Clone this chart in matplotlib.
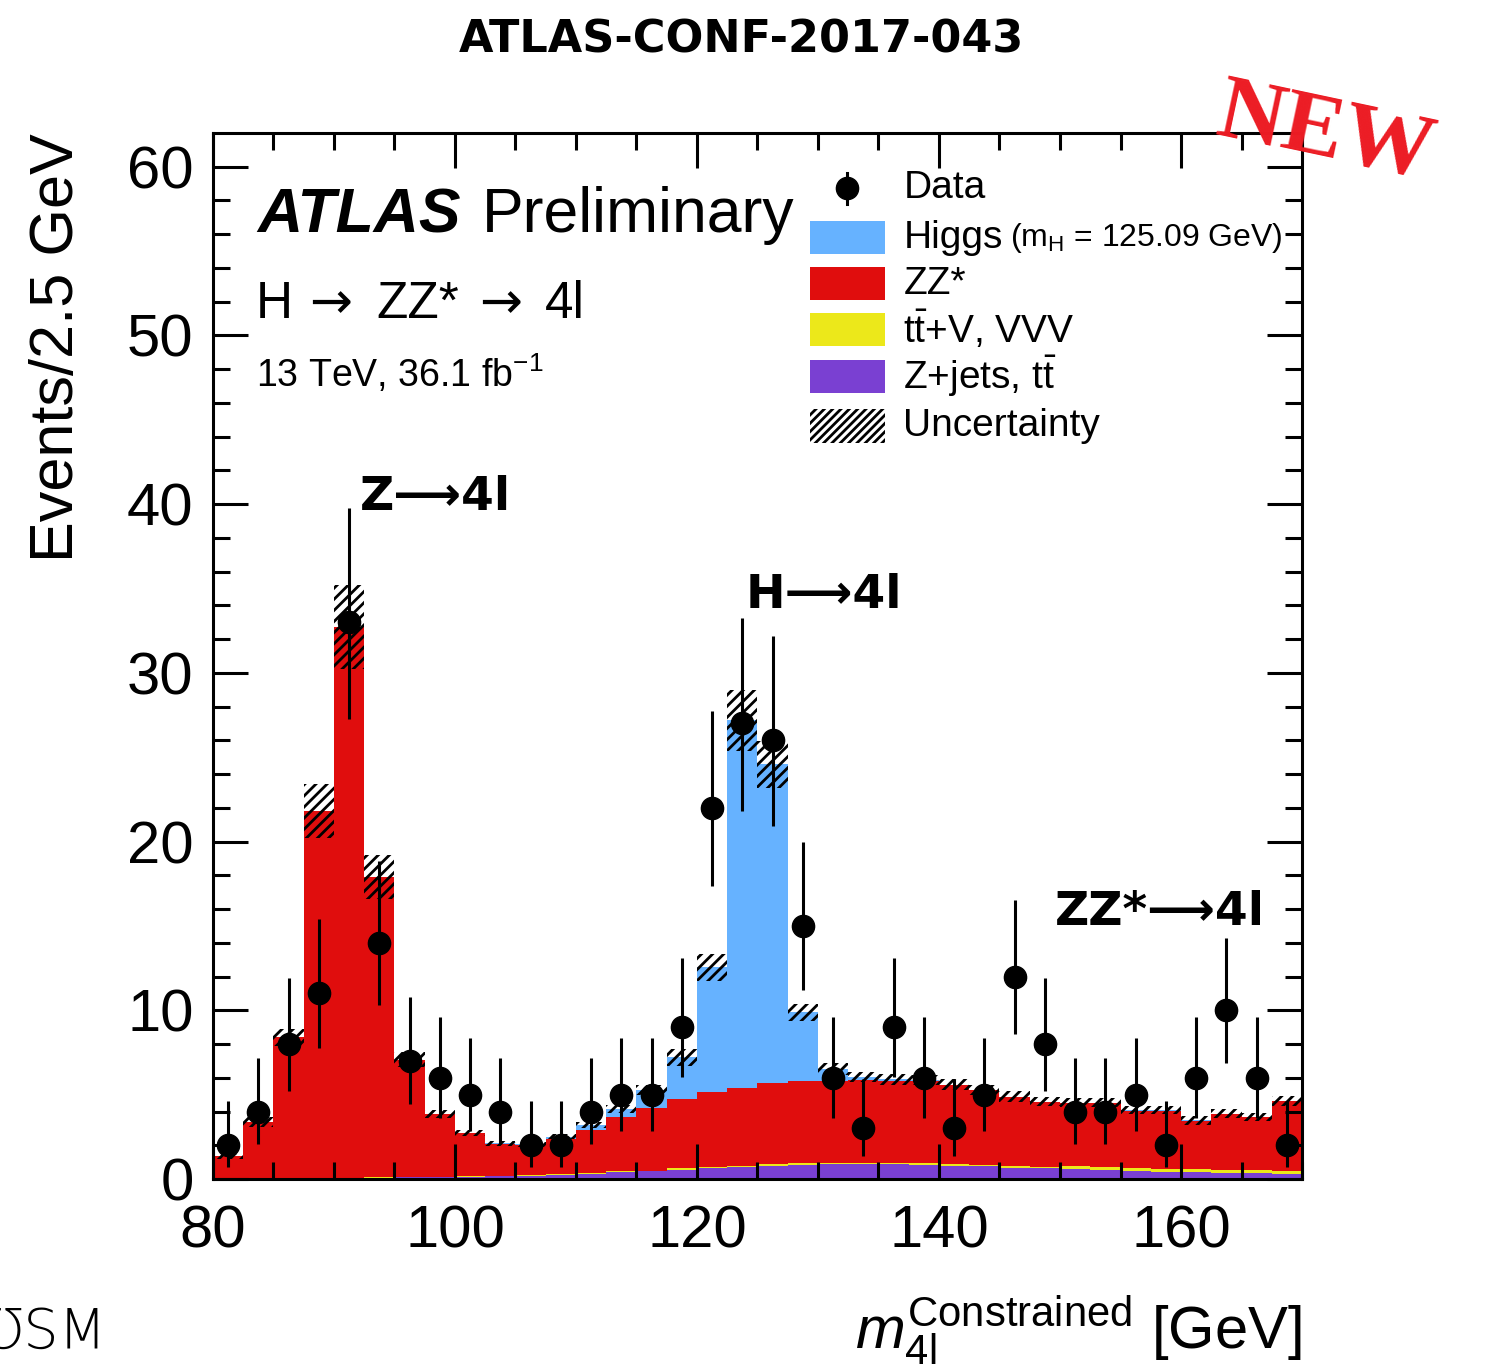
"""ATLAS H->ZZ*->4l constrained mass spectrum (ATLAS-CONF-2017-043)."""
import matplotlib
matplotlib.use("Agg")
import matplotlib.pyplot as plt
from matplotlib.patches import Rectangle
import numpy as np

plt.rcParams['font.family'] = ['Liberation Sans', 'DejaVu Sans']
plt.rcParams['mathtext.fontset'] = 'custom'
plt.rcParams['mathtext.rm'] = 'Liberation Sans'
plt.rcParams['mathtext.it'] = 'Liberation Sans:italic'
plt.rcParams['mathtext.bf'] = 'Liberation Sans:bold'
plt.rcParams['hatch.linewidth'] = 2.0

# 2.5 GeV bins from 80 to 170 GeV
edges = np.linspace(80, 170, 37)

data = [2, 4, 8, 11, 33, 14, 7, 6, 5, 4, 2, 2, 4, 5, 5, 9, 22, 27,
        26, 15, 6, 3, 9, 6, 3, 5, 12, 8, 4, 4, 5, 2, 6, 10, 6, 2]

zjets = [0.02, 0.03, 0.04, 0.05, 0.07, 0.08, 0.10, 0.12, 0.13, 0.15, 0.20, 0.25,
         0.30, 0.40, 0.45, 0.55, 0.63, 0.70, 0.80, 0.84, 0.87, 0.87, 0.86, 0.84,
         0.80, 0.75, 0.68, 0.63, 0.57, 0.52, 0.48, 0.44, 0.40, 0.37, 0.34, 0.31]

ttv = [0.0, 0.0, 0.0, 0.0, 0.0, 0.02, 0.02, 0.02, 0.02, 0.02, 0.05, 0.05,
       0.05, 0.05, 0.05, 0.08, 0.08, 0.08, 0.08, 0.08, 0.10, 0.10, 0.10, 0.10,
       0.10, 0.10, 0.10, 0.10, 0.18, 0.18, 0.18, 0.18, 0.18, 0.18, 0.18, 0.18]

zz = [1.34, 3.37, 8.36, 21.75, 32.63, 17.80, 6.95, 3.72, 2.55, 1.90, 1.75, 2.10,
      2.55, 3.25, 3.70, 4.09, 4.44, 4.60, 4.79, 4.86, 4.84, 4.89, 4.84, 4.86,
      4.65, 4.40, 4.07, 3.82, 3.75, 3.80, 3.39, 3.43, 2.87, 3.30, 3.13, 4.11]

higgs = [0.0, 0.0, 0.0, 0.0, 0.0, 0.0, 0.0, 0.0, 0.02, 0.05, 0.05, 0.10,
         0.30, 0.45, 1.10, 2.50, 7.40, 21.80, 18.90, 4.10, 0.70, 0.17, 0.10, 0.08,
         0.05, 0.05, 0.04, 0.04, 0.03, 0.03, 0.03, 0.03, 0.02, 0.02, 0.02, 0.02]

# half-width of the total systematic + statistical band
unc = [0.15, 0.30, 0.50, 1.60, 2.50, 1.30, 0.45, 0.25, 0.20, 0.15, 0.15, 0.15,
       0.20, 0.25, 0.30, 0.50, 0.80, 1.80, 1.40, 0.50, 0.35, 0.30, 0.30, 0.30,
       0.30, 0.30, 0.30, 0.25, 0.25, 0.25, 0.25, 0.25, 0.25, 0.25, 0.25, 0.30]

col_higgs = '#66b2ff'
col_zz = '#e00d0d'
col_ttv = '#ece81a'
col_zjets = '#7a40d2'

fig = plt.figure(figsize=(14.91, 13.64), dpi=100)
ax = fig.add_axes([213 / 1491, 1 - 1179 / 1364, 1089 / 1491, 1046 / 1364])

# stacked backgrounds + signal
bottom = np.zeros(len(data))
for vals, col in [(zjets, col_zjets), (ttv, col_ttv), (zz, col_zz), (higgs, col_higgs)]:
    top = bottom + np.array(vals)
    ax.stairs(top, edges, baseline=bottom, fill=True, color=col, lw=0)
    bottom = top
total = bottom

centers = 0.5 * (edges[:-1] + edges[1:])
width = edges[1:] - edges[:-1]
unc = np.array(unc)
ax.bar(centers, 2 * unc, width=width, bottom=total - unc, fill=False,
       hatch='///', edgecolor='black', linewidth=0)

# data with Poisson (Garwood) intervals
n = np.array(data, dtype=float)
lo = n * (1 - 1 / (9 * n) - 1 / (3 * np.sqrt(n))) ** 3
hi = (n + 1) * (1 - 1 / (9 * (n + 1)) + 1 / (3 * np.sqrt(n + 1))) ** 3
ax.errorbar(centers, n, yerr=[n - lo, hi - n], fmt='o', color='black',
            markersize=16, elinewidth=2.2, capsize=0, zorder=5)

ax.set_xlim(80, 170)
ax.set_ylim(0, 62)
ax.set_xticks([80, 100, 120, 140, 160])
ax.set_xticks(np.arange(80, 171, 5), minor=True)
ax.set_yticks([0, 10, 20, 30, 40, 50, 60])
ax.set_yticks(np.arange(0, 62, 2), minor=True)
ax.tick_params(which='both', direction='in', top=True, right=True, width=2.2,
               labelsize=43)
ax.tick_params(which='major', length=25)
ax.tick_params(which='minor', length=12)
ax.tick_params(axis='x', pad=18)
ax.tick_params(axis='y', pad=14)
for s in ax.spines.values():
    s.set_linewidth(2.2)

fig.text(58 / 1491, 1 - 133 / 1364, 'Events/2.5 GeV', rotation=90,
         ha='center', va='top', fontsize=44)
fig.text(1302 / 1491, 14 / 1364,
         r'$m_{\mathrm{4l}}^{\mathrm{Constrained}}$ [GeV]',
         ha='right', va='baseline', fontsize=43)

# ATLAS labels
ax.text(0.041, 0.905, 'ATLAS', transform=ax.transAxes, fontsize=45,
        fontweight='bold', fontstyle='italic', va='baseline')
ax.text(0.247, 0.905, 'Preliminary', transform=ax.transAxes, fontsize=45,
        va='baseline')
# process line, pieces placed so the arrows come from DejaVu (longer glyph)
for xpos, piece, fam in [(0.0395, 'H', 'Liberation Sans'),
                         (0.088, '\u2192', 'DejaVu Sans'),
                         (0.150, 'ZZ*', 'Liberation Sans'),
                         (0.244, '\u2192', 'DejaVu Sans'),
                         (0.305, '4l', 'Liberation Sans')]:
    ax.text(xpos, 0.823, piece, transform=ax.transAxes, fontsize=37,
            va='baseline', family=[fam])
ax.text(0.0395, 0.757, '13 TeV, 36.1 fb$^{-1}$', transform=ax.transAxes,
        fontsize=27, va='baseline')

# legend
rows = [0.947, 0.900, 0.856, 0.812, 0.767, 0.720]
labels = ['Data', 'Higgs', 'ZZ*',
          't$\\bar{\\mathrm{t}}$+V, VVV', 'Z+jets, t$\\bar{\\mathrm{t}}$',
          'Uncertainty']
bx, bw, bh = 0.548, 0.069, 0.032
ax.plot([bx + bw / 2], [rows[0]], 'o', color='black', markersize=16,
        transform=ax.transAxes)
ax.plot([bx + bw / 2] * 2, [rows[0] - 0.015, rows[0] + 0.015], color='black',
        lw=2.2, transform=ax.transAxes)
for y, col in zip(rows[1:5], [col_higgs, col_zz, col_ttv, col_zjets]):
    ax.add_patch(Rectangle((bx, y - bh / 2), bw, bh, transform=ax.transAxes,
                           facecolor=col, edgecolor='none'))
ax.add_patch(Rectangle((bx, rows[5] - bh / 2), bw, bh, transform=ax.transAxes,
                       fill=False, hatch='////', edgecolor='black', lw=0))
for y, lab in zip(rows, labels):
    ax.text(0.634, y, lab, transform=ax.transAxes, fontsize=28, va='center')
ax.text(0.732, rows[1], '(m$_{\\mathrm{H}}$ = 125.09 GeV)', transform=ax.transAxes,
        fontsize=23, va='center')

# peak annotations
ann = dict(fontsize=34, fontweight='heavy', family=['DejaVu Sans'], va='center')
ax.text(92.1, 40.4, 'Z\u27f64l', **ann)
ax.text(124.0, 34.6, 'H\u27f64l', **ann)
ax.text(149.6, 15.8, 'ZZ*\u27f64l', **ann)

fig.text(0.497, 1 - 40 / 1364, 'ATLAS-CONF-2017-043', ha='center', va='center',
         fontsize=32, fontweight='heavy', family=['DejaVu Sans'])

fig.text(1325 / 1491, 1 - 135 / 1364, 'NEW', rotation=-12, ha='center',
         va='center', fontsize=66, fontweight='bold', color='#ec1c24',
         family=['Liberation Serif'])

fig.text(-0.012, 1 - 1333 / 1364, '\u01b1SM', ha='left', va='center',
         fontsize=40, family=['DejaVu Sans'], fontweight='light')

fig.savefig('out.png', dpi=100)
